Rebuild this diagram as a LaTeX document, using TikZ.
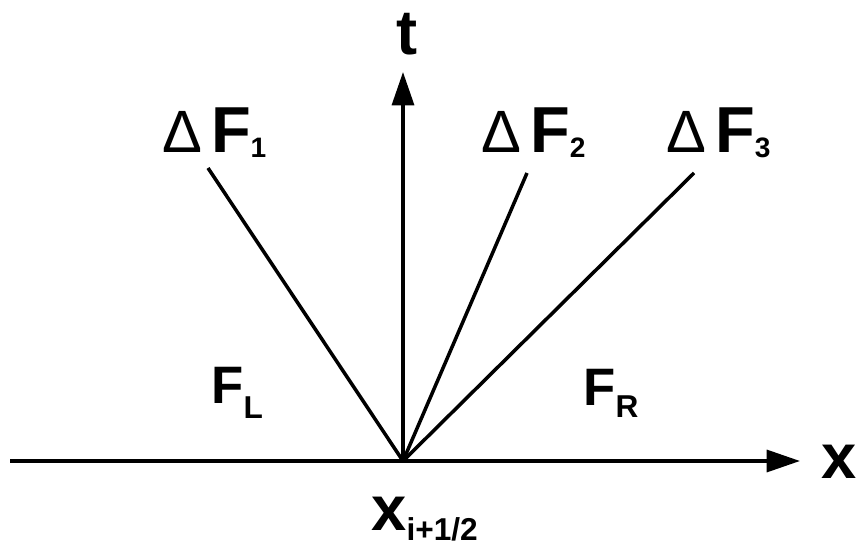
\documentclass[tikz,border=0pt]{standalone}
\usepackage{fontspec}
\setmainfont{Liberation Sans}
\usetikzlibrary{arrows.meta}
\newcommand{\lowidx}[3]{\raisebox{#1}{\fontsize{#2}{#2}\selectfont\bfseries #3}}
\tikzset{
  wave/axis/.style={line width=2pt, -{Triangle[length=19pt,width=12.5pt]}},
  wave/front/.style={line width=2pt},
  wave/jump/.style={inner sep=0pt, anchor=base west, font=\fontsize{37}{37}\selectfont},
  wave/state/.style={inner sep=0pt, anchor=base west, font=\fontsize{30}{30}\selectfont\bfseries},
  wave/coord/.style={inner sep=0pt, anchor=base west, font=\fontsize{36}{36}\selectfont\bfseries}
}
\begin{document}
\begin{tikzpicture}[x=0.02cm,y=-0.02cm]
  \useasboundingbox (0,0) rectangle (859,547);
  % interface point and axes
  \coordinate (o) at (403,461);
  \coordinate (xstart) at (10,461);
  \coordinate (xend) at (800,461);
  \coordinate (tend) at (403,72);
  \draw[wave/axis] (xstart) -- (xend);
  \draw[wave/axis] (o) -- (tend);
  % wave fronts
  \coordinate (w1) at (208,168);
  \coordinate (w2) at (527,173);
  \coordinate (w3) at (694,173);
  \foreach \w in {w1,w2,w3}
    \draw[wave/front] (o) -- (\w);
  % labels
  \node[wave/jump] (dF1) at (162,153) {{\fontsize{34}{34}\selectfont Δ}\hspace{5pt}\textbf{F}\lowidx{-2.8pt}{16}{1}};
  \node[wave/jump] (dF2) at (481,153) {{\fontsize{34}{34}\selectfont Δ}\hspace{5pt}\textbf{F}\lowidx{-2.8pt}{16}{2}};
  \node[wave/jump] (dF3) at (666,153) {{\fontsize{34}{34}\selectfont Δ}\hspace{5pt}\textbf{F}\lowidx{-2.8pt}{16}{3}};
  \node[wave/state] (FL) at (211,403) {F\lowidx{-9pt}{18}{L}};
  \node[wave/state] (FR) at (583,405) {F\lowidx{-7pt}{18}{R}};
  \node[wave/coord] (xi) at (371,530) {x\lowidx{-5.7pt}{18}{i+1/2}};
  \node[wave/coord] (xlab) at (821,478) {x};
  \node[wave/coord] (tlab) at (396,55) {t};
\end{tikzpicture}
\end{document}
